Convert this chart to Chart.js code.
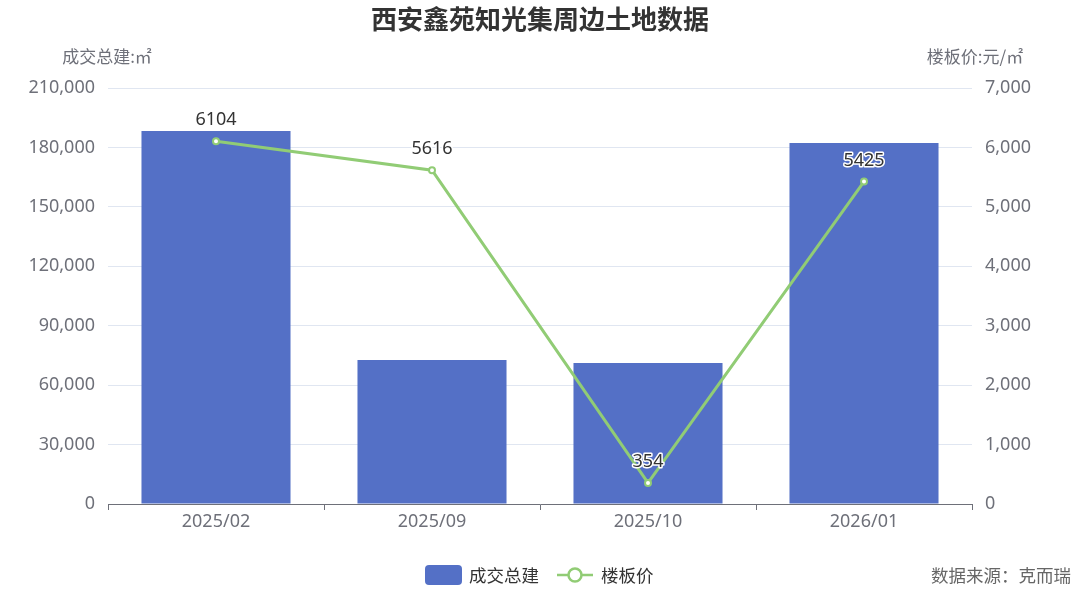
<!DOCTYPE html>
<html>
<head>
<meta charset="utf-8">
<script src="https://cdn.jsdelivr.net/npm/chart.js@4/dist/chart.umd.min.js"></script>
<style>
  html, body { margin: 0; padding: 0; background: #fff; }
  #wrap { width: 1080px; height: 593px; }
</style>
</head>
<body>
<div id="wrap"><canvas id="c"></canvas></div>
<script>
// 数据
const categories = ['2025/02', '2025/09', '2025/10', '2026/01'];
const areaValues = [188300, 72700, 71200, 182200];   // 成交总建 (㎡)
const priceValues = [6104, 5616, 354, 5425];          // 楼板价 (元/㎡)
const leftTicks = [0, 30000, 60000, 90000, 120000, 150000, 180000, 210000];
const rightTicks = [0, 1000, 2000, 3000, 4000, 5000, 6000, 7000];

const FONT = '"Noto Sans", "Noto Sans CJK SC", sans-serif';
const CJK = '"Noto Sans CJK SC", "Noto Sans", sans-serif';
const BAR = '#5470c6';
const LINE = '#91cc75';
const AXIS = '#6e7079';

// title, axis names, point labels, legend and source
const decorations = {
    id: 'decorations',
    afterDatasetsDraw(chart) {
        const ctx = chart.ctx;
        ctx.save();

        ctx.fillStyle = '#333';
        ctx.font = 'bold 26px ' + CJK;
        ctx.textAlign = 'center';
        ctx.textBaseline = 'middle';
        ctx.fillText('西安鑫苑知光集周边土地数据', 540, 19);

        ctx.font = '17px ' + CJK;
        ctx.fillStyle = AXIS;
        ctx.fillText('成交总建:㎡', 107, 57);
        ctx.fillText('楼板价:元/㎡', 975, 57);

        // point labels
        const meta = chart.getDatasetMeta(1);
        ctx.font = '18px ' + FONT;
        ctx.lineJoin = 'round';
        meta.data.forEach((pt, i) => {
            const y = pt.y - 21;
            ctx.strokeStyle = '#fff';
            ctx.lineWidth = 3;
            ctx.strokeText(String(priceValues[i]), pt.x, y);
            ctx.fillStyle = '#333';
            ctx.fillText(String(priceValues[i]), pt.x, y);
        });

        // legend
        ctx.fillStyle = BAR;
        ctx.beginPath();
        ctx.roundRect(425, 565, 37, 20, 4);
        ctx.fill();
        ctx.fillStyle = '#333';
        ctx.font = '17.5px ' + CJK;
        ctx.textAlign = 'left';
        ctx.fillText('成交总建', 469, 575);

        ctx.strokeStyle = LINE;
        ctx.lineWidth = 2.5;
        ctx.beginPath();
        ctx.moveTo(557, 575);
        ctx.lineTo(593, 575);
        ctx.stroke();
        ctx.beginPath();
        ctx.arc(575, 575, 6.5, 0, Math.PI * 2);
        ctx.fillStyle = '#fff';
        ctx.fill();
        ctx.stroke();
        ctx.fillStyle = '#333';
        ctx.fillText('楼板价', 601, 575);

        ctx.fillStyle = '#666';
        ctx.textAlign = 'right';
        ctx.fillText('数据来源：克而瑞', 1071, 575);

        ctx.restore();
    }
};

new Chart(document.getElementById('c'), {
    data: {
        labels: categories,
        datasets: [
            {
                type: 'bar',
                label: '成交总建',
                data: areaValues,
                backgroundColor: BAR,
                yAxisID: 'y',
                barPercentage: 0.69,
                categoryPercentage: 1,
                order: 2
            },
            {
                type: 'line',
                label: '楼板价',
                data: priceValues,
                borderColor: LINE,
                borderWidth: 3,
                pointRadius: 3,
                pointBorderWidth: 2,
                pointBackgroundColor: '#fff',
                pointBorderColor: LINE,
                yAxisID: 'y1',
                order: 1
            }
        ]
    },
    options: {
        responsive: true,
        maintainAspectRatio: false,
        animation: false,
        layout: { padding: { top: 88, left: 0, right: 0, bottom: 0 } },
        plugins: {
            legend: { display: false },
            tooltip: { enabled: false }
        },
        scales: {
            x: {
                grid: { display: true, drawOnChartArea: false, color: AXIS, tickLength: 6, offset: true },
                border: { color: AXIS },
                ticks: { color: AXIS, font: { family: FONT, size: 18 }, padding: 1 },
                afterFit(s) { s.height = 89; }
            },
            y: {
                position: 'left',
                min: 0,
                max: 210000,
                afterBuildTicks(s) { s.ticks = leftTicks.map(v => ({ value: v })); },
                grid: { color: '#e0e6f1', drawTicks: false },
                border: { display: false },
                ticks: {
                    color: AXIS,
                    font: { family: FONT, size: 18 },
                    padding: 13,
                    callback: v => v.toLocaleString('en-US')
                },
                afterFit(s) { s.width = 108; }
            },
            y1: {
                position: 'right',
                min: 0,
                max: 7000,
                afterBuildTicks(s) { s.ticks = rightTicks.map(v => ({ value: v })); },
                grid: { display: false, drawTicks: false },
                border: { display: false },
                ticks: {
                    color: AXIS,
                    font: { family: FONT, size: 18 },
                    padding: 13,
                    callback: v => v.toLocaleString('en-US')
                },
                afterFit(s) { s.width = 108; }
            }
        }
    },
    plugins: [decorations]
});
</script>
</body>
</html>
